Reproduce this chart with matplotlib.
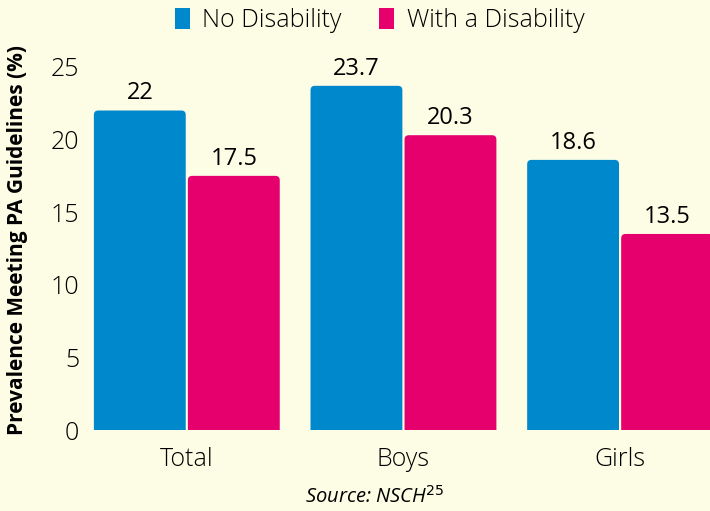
import matplotlib
matplotlib.use("Agg")
import matplotlib.pyplot as plt
from matplotlib.patches import FancyBboxPatch, Patch
import numpy as np

categories = ["Total", "Boys", "Girls"]
no_disability = [22, 23.7, 18.6]
with_disability = [17.5, 20.3, 13.5]
series_names = ["No Disability", "With a Disability"]
yticks = [0, 5, 10, 15, 20, 25]

BG = "#FCFDE4"
BLUE = "#0088CC"
PINK = "#E5006E"
FONT = "Open Sans"

fig = plt.figure(figsize=(7.1, 5.11), dpi=100, facecolor=BG)
ax = fig.add_axes([0.131, 0.1585, 0.869, 0.7105], facecolor=BG)

x = np.arange(len(categories))
w = 0.424
gap = 0.005
bars1 = ax.bar(x - w / 2 - gap, no_disability, w, color=BLUE)
bars2 = ax.bar(x + w / 2 + gap, with_disability, w, color=PINK)

# rounded top corners
def round_bars(bars, color):
    for b in bars:
        b.set_visible(False)
        bx, by = b.get_x(), b.get_y()
        bw, bh = b.get_width(), b.get_height()
        p = FancyBboxPatch((bx, by - 1), bw, bh + 1,
                           boxstyle="round,pad=0,rounding_size=0.02",
                           mutation_aspect=217 / 14.52,
                           facecolor=color, edgecolor="none", clip_on=True)
        ax.add_patch(p)

round_bars(bars1, BLUE)
round_bars(bars2, PINK)

for bars, vals in ((bars1, no_disability), (bars2, with_disability)):
    for b, v in zip(bars, vals):
        ax.text(b.get_x() + b.get_width() / 2, v + 0.35, f"{v:g}",
                ha="center", va="bottom", fontsize=17, family=FONT,
                weight="normal", color="black")

ax.set_xlim(-0.433, 2.415)
ax.set_ylim(0, 25)
ax.set_yticks(yticks)
ax.set_yticklabels([str(t) for t in yticks], fontsize=18, family=FONT,
                   weight="light")
ax.set_xticks(x)
ax.set_xticklabels(categories, fontsize=18, family=FONT, weight="light")
ax.tick_params(length=0, pad=10)
ax.tick_params(axis="x", pad=12)
for s in ax.spines.values():
    s.set_visible(False)

fig.text(0.025, 0.53, "Prevalence Meeting PA Guidelines (%)", rotation=90,
         ha="center", va="center", fontsize=15, weight="bold", family=FONT)
fig.text(0.528, 0.027, "Source: NSCH$^{25}$", ha="center", va="center",
         fontsize=14.5, style="italic", family=FONT)

handles = [Patch(facecolor=BLUE), Patch(facecolor=PINK)]
leg = fig.legend(handles, series_names, loc="center", bbox_to_anchor=(0.535, 0.96),
                 ncol=2, frameon=False, handlelength=0.6, handleheight=0.9,
                 handletextpad=0.5, columnspacing=1.5,
                 prop={"family": FONT, "size": 18, "weight": "light"})

fig.savefig("out.png", dpi=100, facecolor=BG)
